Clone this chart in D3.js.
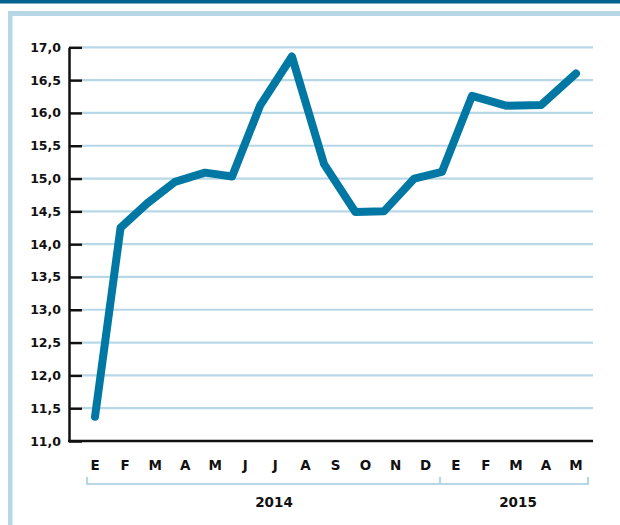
<!DOCTYPE html>
<html>
<head>
<meta charset="utf-8">
<script src="https://cdn.jsdelivr.net/npm/d3@7"></script>
<style>
  body { margin: 0; background: #fff; }
  svg { display: block; }
</style>
</head>
<body>
<div id="chart"></div>
<script>
// data
var months = ["E","F","M","A","M","J","J","A","S","O","N","D","E","F","M","A","M"];
// where each reading sits along the month axis (0 = Jan 2014)
var monthPos = [0, 0.85, 1.73, 2.66, 3.66, 4.56, 5.49, 6.55, 7.62, 8.66, 9.61, 10.62, 11.54, 12.54, 13.67, 14.84, 16];
var values = [11.37, 14.25, 14.62, 14.95, 15.09, 15.03, 16.11, 16.86, 15.22, 14.49, 14.50, 15.00, 15.10, 16.26, 16.11, 16.12, 16.60];
var yTicks = [11, 11.5, 12, 12.5, 13, 13.5, 14, 14.5, 15, 15.5, 16, 16.5, 17];
var years = ["2014", "2015"];

var W = 620, H = 525;
var font = "DejaVu Sans, sans-serif";

var svg = d3.select("#chart")
    .append("svg")
    .attr("width", W)
    .attr("height", H);

// frame
svg.append("rect").attr("x", 0).attr("y", 0).attr("width", W).attr("height", 3.5).attr("fill", "#00628f");
svg.append("rect").attr("x", 8).attr("y", 11).attr("width", W - 8).attr("height", 5).attr("fill", "#b7d7e6");
svg.append("rect").attr("x", 8).attr("y", 11).attr("width", 4.5).attr("height", H - 11).attr("fill", "#b7d7e6");

var x = d3.scaleLinear()
    .domain([0, months.length - 1])
    .range([95, 576]);

var y = d3.scaleLinear()
    .domain([11, 17])
    .range([441, 47.3]);

// gridlines
svg.selectAll("grid")
    .data(yTicks.slice(1))
    .enter()
    .append("line")
    .attr("x1", 82)
    .attr("x2", 593)
    .attr("y1", function(d) { return y(d); })
    .attr("y2", function(d) { return y(d); })
    .attr("stroke", "#b9d8e7")
    .attr("stroke-width", 2.2);

// y axis
var yAxis = svg.append("g")
    .attr("transform", "translate(69,0)")
    .call(d3.axisLeft(y)
        .tickValues(yTicks)
        .tickSize(-13)
        .tickSizeOuter(0)
        .tickPadding(8)
        .tickFormat(function(d) { return d3.format(".1f")(d).replace(".", ","); }));

yAxis.select(".domain").attr("stroke", "#111").attr("stroke-width", 2.5);
yAxis.selectAll(".tick line").attr("stroke", "#111").attr("stroke-width", 2.5);
yAxis.selectAll(".tick text")
    .attr("fill", "#111")
    .style("font-family", font)
    .style("font-weight", "bold")
    .style("font-size", "12.5px");

// x axis line
svg.append("line")
    .attr("x1", 68)
    .attr("x2", 593)
    .attr("y1", y(11))
    .attr("y2", y(11))
    .attr("stroke", "#111")
    .attr("stroke-width", 2.5);

// month labels
svg.selectAll("monthlabel")
    .data(months)
    .enter()
    .append("text")
    .attr("x", function(d, i) { return x(i); })
    .attr("y", 470)
    .attr("text-anchor", "middle")
    .attr("fill", "#111")
    .style("font-family", font)
    .style("font-weight", "bold")
    .style("font-size", "13.5px")
    .text(function(d) { return d; });

// year brackets
var bx = [87, 440, 588];
var bracket = d3.line();
svg.append("path")
    .attr("d", bracket([[bx[0], 477], [bx[0], 484], [bx[2], 484], [bx[2], 477]]))
    .attr("fill", "none")
    .attr("stroke", "#b7d7e6")
    .attr("stroke-width", 2.2);
svg.append("line")
    .attr("x1", bx[1]).attr("x2", bx[1])
    .attr("y1", 477).attr("y2", 484)
    .attr("stroke", "#b7d7e6")
    .attr("stroke-width", 2.2);

svg.selectAll("yearlabel")
    .data(years)
    .enter()
    .append("text")
    .attr("x", function(d, i) { return i == 0 ? 274 : 518; })
    .attr("y", 507)
    .attr("text-anchor", "middle")
    .attr("fill", "#111")
    .style("font-family", font)
    .style("font-weight", "bold")
    .style("font-size", "13.5px")
    .text(function(d) { return d; });

// line
var line = d3.line()
    .x(function(d, i) { return x(monthPos[i]); })
    .y(function(d) { return y(d); });

svg.append("path")
    .datum(values)
    .attr("d", line)
    .attr("fill", "none")
    .attr("stroke", "#0078a3")
    .attr("stroke-width", 8)
    .attr("stroke-linecap", "round")
    .attr("stroke-linejoin", "round");
</script>
</body>
</html>
